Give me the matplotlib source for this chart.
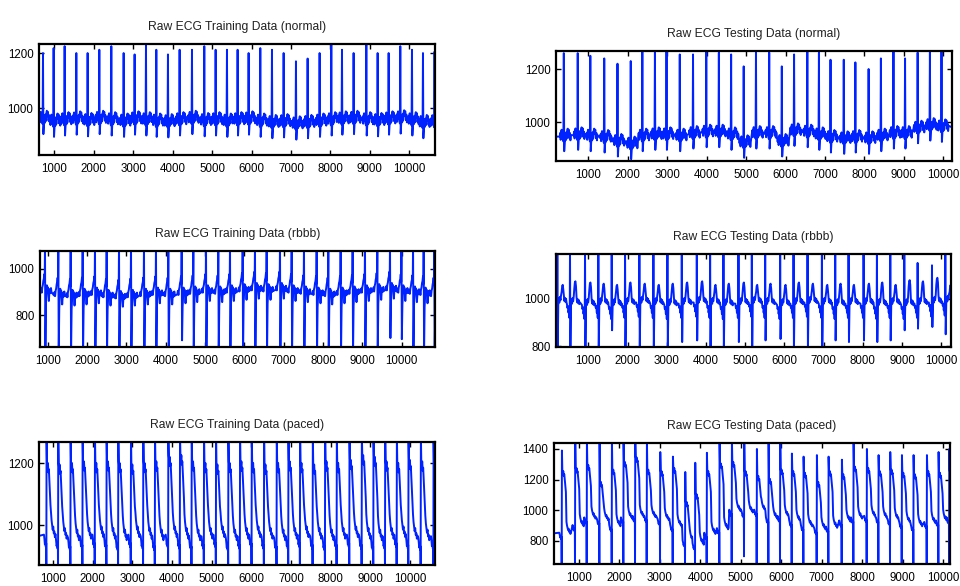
import numpy as np
import matplotlib
matplotlib.use("Agg")
import matplotlib.pyplot as plt

plt.rcParams['font.family'] = ['Liberation Sans', 'DejaVu Sans']

# -----------------------------
# Panel data (sample index of each beat, levels)
# -----------------------------

titles = ["Raw ECG Training Data (normal)", "Raw ECG Testing Data (normal)",
          "Raw ECG Training Data (rbbb)", "Raw ECG Testing Data (rbbb)",
          "Raw ECG Training Data (paced)", "Raw ECG Testing Data (paced)"]

x_ranges = [(612, 10651), (180, 10220), (805, 10848),
            (176, 10248), (647, 10630), (384, 10173)]
y_ranges = [(829, 1233), (853, 1268), (661, 1078),
            (796, 1191), (871, 1268), (650, 1439)]
y_ticks = [[1000, 1200], [1000, 1200], [800, 1000],
           [800, 1000], [1000, 1200], [800, 1000, 1200, 1400]]
x_ticks = list(range(1000, 10001, 1000))

# normal, training
n1_beats = [713, 983, 1262, 1558, 1845, 2141, 2445, 2758, 3036, 3324, 3586, 3881,
            4177, 4490, 4802, 5090, 5377, 5647, 5926, 6222, 6518, 6814, 7126, 7422,
            7726, 8022, 8293, 8588, 8910, 9197, 9476, 9771, 10067, 10346, 10640]
n1_peaks = [1200, 1218, 1225, 1200, 1200, 1212, 1225, 1200, 1195, 1233, 1212, 1195,
            1212, 1212, 1225, 1212, 1212, 1212, 1200, 1218, 1212, 1200, 1170, 1180,
            1200, 1233, 1212, 1200, 1230, 1200, 1200, 1225, 1212, 1200, 1205]
n1_base = [960, 950, 955, 958, 952, 960, 955, 950, 958, 955, 950, 948,
           955, 960, 952, 955, 950, 955, 958, 950, 945, 948, 940, 945,
           950, 955, 958, 960, 955, 952, 958, 962, 955, 945, 948]

# normal, testing
n2_beats = [378, 731, 1050, 1403, 1739, 2075, 2369, 2688, 2982, 3318, 3654, 3990,
            4309, 4620, 4939, 5250, 5586, 5905, 6216, 6552, 6846, 7140, 7476, 7770,
            8106, 8417, 8736, 9030, 9349, 9660, 9954]
n2_peaks = [1260, 1260, 1250, 1240, 1220, 1230, 1275, 1275, 1275, 1255, 1255, 1270,
            1262, 1255, 1210, 1275, 1262, 1210, 1255, 1275, 1262, 1235, 1235, 1225,
            1200, 1240, 1275, 1240, 1262, 1275, 1275]
n2_base = [945, 950, 945, 940, 925, 915, 945, 950, 950, 945, 955, 960,
           960, 950, 920, 955, 955, 925, 965, 960, 950, 940, 935, 940,
           935, 945, 955, 955, 975, 985, 980]

# rbbb, training
r1_beats = [932, 1271, 1585, 1890, 2203, 2500, 2814, 3119, 3449, 3754, 4068, 4407,
            4704, 5026, 5339, 5636, 5958, 6271, 6568, 6907, 7204, 7517, 7839, 8136,
            8449, 8754, 9068, 9382, 9704, 9995, 10290, 10560, 10830]
r1_peaks = [1110] * 33
r1_troughs = [630, 630, 630, 630, 630, 630, 630, 630, 630, 630, 630, 690,
              630, 630, 630, 630, 630, 630, 630, 630, 630, 630, 630, 630,
              630, 630, 630, 630, 700, 695, 630, 630, 630]
r1_base = [905, 890, 885, 890, 895, 885, 880, 885, 890, 895, 890, 895,
           900, 905, 900, 905, 910, 915, 910, 915, 905, 900, 895, 890,
           895, 900, 905, 910, 915, 905, 900, 895, 890]

# rbbb, testing
r2_beats = [210, 533, 916, 1256, 1596, 1937, 2302, 2660, 3017, 3383, 3766, 4106,
            4446, 4829, 5169, 5510, 5892, 6233, 6590, 6956, 7296, 7636, 8019, 8359,
            8700, 9057, 9397, 9763, 10103]
r2_peaks = [1210, 1210, 1210, 1210, 1210, 1210, 1210, 1210, 1210, 1210, 1210, 1210,
            1210, 1210, 1210, 1210, 1210, 1210, 1210, 1210, 1210, 1210, 1210, 1210,
            1210, 1210, 1153, 1143, 1210]
r2_troughs = [780, 780, 780, 780, 867, 780, 780, 780, 790, 817, 824, 780,
              780, 817, 780, 824, 830, 780, 780, 800, 824, 817, 824, 817,
              824, 867, 874, 881, 850]
r2_base = [995, 990, 985, 990, 985, 990, 995, 990, 985, 990, 995, 990,
           985, 990, 995, 990, 985, 990, 995, 990, 985, 990, 990, 985,
           990, 985, 990, 995, 1000]
r2_hump = [1060, 1075, 1070, 1065, 1060, 1070, 1065, 1060, 1065, 1070, 1075, 1060,
           1065, 1070, 1060, 1065, 1060, 1070, 1065, 1060, 1065, 1060, 1065, 1070,
           1060, 1080, 1075, 1090, 1060]

# paced, training
p1_beats = [832, 1127, 1438, 1741, 2052, 2346, 2641, 2960, 3271, 3566, 3902, 4196,
            4491, 4802, 5105, 5416, 5710, 6005, 6316, 6635, 6930, 7224, 7544, 7855,
            8149, 8469, 8780, 9074, 9369, 9663, 9957, 10268, 10588]
p1_peaks = [1290] * 33
p1_troughs = [850] * 33
p1_hump = [1195, 1190, 1195, 1200, 1195, 1200, 1195, 1190, 1195, 1200, 1215, 1220,
           1200, 1195, 1190, 1195, 1200, 1195, 1190, 1195, 1200, 1195, 1190, 1200,
           1195, 1205, 1220, 1215, 1200, 1195, 1205, 1200, 1195]
p1_base = [965, 960, 955, 960, 965, 960, 955, 965, 960, 955, 965, 960,
           955, 960, 965, 955, 960, 965, 960, 955, 960, 965, 960, 955,
           960, 965, 960, 955, 960, 965, 960, 955, 960]

# paced, testing
p2_beats = [574, 903, 1192, 1505, 1810, 2098, 2387, 2675, 3005, 3318, 3623, 3870,
            4158, 4471, 4776, 5081, 5394, 5683, 5971, 6259, 6548, 6877, 7166, 7495,
            7784, 8113, 8402, 8690, 8979, 9267, 9597, 9885, 10150]
p2_peaks = [1390, 1460, 1460, 1460, 1460, 1460, 1460, 1460, 1380, 1350, 1250, 1310,
            1375, 1460, 1460, 1460, 1400, 1460, 1460, 1370, 1350, 1360, 1350, 1330,
            1460, 1400, 1360, 1380, 1360, 1360, 1360, 1380, 1400]
p2_troughs = [630, 630, 630, 630, 630, 630, 630, 630, 630, 630, 630, 630,
              630, 630, 630, 700, 630, 630, 630, 630, 630, 630, 630, 630,
              630, 630, 630, 630, 630, 630, 630, 630, 630]
p2_hump = [1250, 1270, 1290, 1180, 1260, 1310, 1340, 1260, 1250, 1270, 1050, 1100,
           1250, 1300, 1310, 1250, 1220, 1200, 1260, 1250, 1240, 1180, 1250, 1230,
           1280, 1270, 1250, 1260, 1240, 1230, 1250, 1240, 1250]
p2_base = [850, 900, 950, 940, 900, 950, 960, 960, 940, 900, 800, 780,
           850, 880, 1000, 990, 1000, 950, 960, 930, 900, 880, 890, 930,
           950, 960, 950, 940, 920, 900, 920, 930, 950]

# beat shapes: (offset from beat, level, delta) ; b=baseline p=peak t=trough h=hump
normal_shape = [(-105, 'b', 0), (-92, 'b', 14), (-80, 'b', -12), (-68, 'b', 18),
                (-56, 'b', 26), (-44, 'b', -2), (-32, 'b', 16), (-20, 'b', -10),
                (-10, 'b', -18), (0, 'p', 0), (10, 'b', -55), (22, 'b', -22),
                (34, 'b', 10), (46, 'b', -14), (58, 'b', 16), (70, 'b', -8),
                (84, 'b', 20), (98, 'b', 30), (112, 'b', 10), (126, 'b', 26),
                (140, 'b', -6), (154, 'b', 14), (168, 'b', -14), (180, 'b', 6)]
rbbb_shape = [(-110, 'b', -5), (-96, 'b', 10), (-82, 'b', -8), (-68, 'b', 16),
              (-54, 'b', 26), (-42, 'b', 44), (-30, 'b', 52), (-18, 'b', 72),
              (-8, 'b', 40), (0, 'p', 0), (10, 't', 0), (24, 'b', -60),
              (36, 'b', -20), (48, 'b', 24), (60, 'b', 4), (72, 'b', 16),
              (86, 'b', -8), (98, 'b', -44), (110, 'b', -12), (124, 'b', 8),
              (138, 'b', -10), (152, 'b', 12), (166, 'b', -6)]
rbbb2_shape = [(-80, 'b', -10), (-66, 'b', -28), (-52, 'b', -20), (-40, 'b', -48),
               (-28, 'b', -35), (-16, 'b', -70), (-6, 'b', -30), (0, 'p', 0),
               (10, 't', 0), (24, 'b', -20), (38, 'b', 8), (52, 'b', -10),
               (66, 'b', 14), (80, 'b', 0), (96, 'b', 22), (110, 'h', -30),
               (124, 'h', -5), (138, 'h', 0), (152, 'h', -20), (166, 'b', 20),
               (180, 'b', -4), (194, 'b', 10), (208, 'b', -8), (222, 'b', 6),
               (236, 'b', -12), (250, 'b', -4)]
paced_shape = [(-60, 'b', 4), (-48, 'b', -10), (-36, 'b', -28), (-24, 'b', -20),
               (-12, 'b', -36), (-4, 'b', -24), (0, 't', 0), (6, 'p', 0),
               (16, 'h', 10), (28, 'h', -10), (40, 'h', 5), (52, 'h', -25),
               (64, 'h', -15), (76, 'h', -50), (90, 'h', -90), (104, 'h', -130),
               (118, 'b', 75), (132, 'b', 50), (146, 'b', 35), (160, 'b', 20),
               (174, 'b', 30), (188, 'b', 8), (202, 'b', 14), (216, 'b', -4),
               (230, 'b', 6)]


def build(beats, shape, xr, base, peaks, troughs=None, hump=None):
    xs = [xr[0]]
    ys = [base[0]]
    for i, b in enumerate(beats):
        stop = beats[i + 1] + shape[0][0] if i + 1 < len(beats) else np.inf
        lv = {'b': base[i], 'p': peaks[i],
              't': troughs[i] if troughs else 0,
              'h': hump[i] if hump else 0}
        for off, ref, d in shape:
            if b + off >= stop:
                break
            if b + off <= xs[-1]:
                continue
            xs.append(b + off)
            ys.append(lv[ref] + d)
    if xs[-1] < xr[1]:
        xs.append(xr[1])
        ys.append(base[-1])
    return xs, ys


series = [
    build(n1_beats, normal_shape, x_ranges[0], n1_base, n1_peaks),
    build(n2_beats, normal_shape, x_ranges[1], n2_base, n2_peaks),
    build(r1_beats, rbbb_shape, x_ranges[2], r1_base, r1_peaks, r1_troughs),
    build(r2_beats, rbbb2_shape, x_ranges[3], r2_base, r2_peaks, r2_troughs, r2_hump),
    build(p1_beats, paced_shape, x_ranges[4], p1_base, p1_peaks, p1_troughs, p1_hump),
    build(p2_beats, paced_shape, x_ranges[5], p2_base, p2_peaks, p2_troughs, p2_hump),
]

# axes boxes in pixels: left, top, right, bottom
boxes = [(39, 44, 435, 155), (556, 51, 952, 161),
         (40, 251, 435, 347), (556, 254, 951, 347),
         (39, 442, 435, 565), (554, 443, 950, 564)]

W, H = 960, 586
fig = plt.figure(figsize=(W / 100, H / 100), dpi=100)

for k in range(6):
    l, t, r, b = boxes[k]
    ax = fig.add_axes([l / W, 1 - b / H, (r - l) / W, (b - t) / H])
    xs, ys = series[k]
    ax.plot(xs, ys, color='#0022ff', lw=1.4)
    ax.set_xlim(x_ranges[k])
    ax.set_ylim(y_ranges[k])
    ax.set_xticks(x_ticks)
    ax.set_yticks(y_ticks[k])
    ax.tick_params(direction='in', length=3.5, width=1, top=True, right=True,
                   labelsize=8.3, colors='black', pad=4)
    ax.tick_params(axis='x', pad=6)
    for s in ax.spines.values():
        s.set_linewidth(1.6)
    ax.set_title(titles[k], fontsize=8.7, pad=10, color='#222222')

plt.savefig("out.png", dpi=100)
